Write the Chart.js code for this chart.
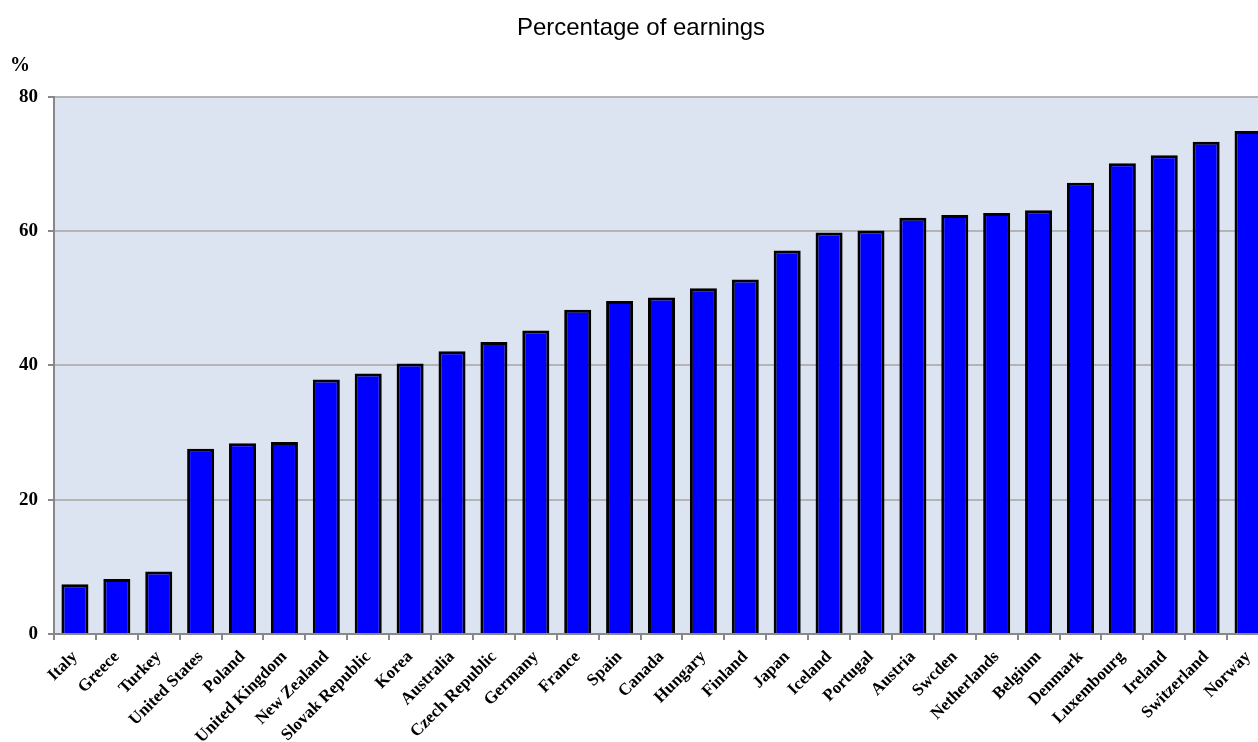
<!DOCTYPE html>
<html>
<head>
<meta charset="utf-8">
<script src="https://cdn.jsdelivr.net/npm/chart.js@4/dist/chart.umd.min.js"></script>
<style>
  html, body { margin: 0; padding: 0; background: #ffffff; overflow: hidden; }
  #wrap { width: 1293px; height: 742px; }
</style>
</head>
<body>
<div id="wrap"><canvas id="earningsChart" width="1293" height="742"></canvas></div>
<script>
// Pays, triés par valeur croissante
const countries = [
  "Italy", "Greece", "Turkey", "United States", "Poland", "United Kingdom",
  "New Zealand", "Slovak Republic", "Korea", "Australia", "Czech Republic",
  "Germany", "France", "Spain", "Canada", "Hungary", "Finland", "Japan",
  "Iceland", "Portugal", "Austria", "Swcden", "Netherlands", "Belgium",
  "Denmark", "Luxembourg", "Ireland", "Switzerland", "Norway"
];

// Pourcentage des gains
const earningsPct = [
  7.4, 8.2, 9.3, 27.6, 28.4, 28.6,
  37.9, 38.8, 40.3, 42.1, 43.5,
  45.2, 48.3, 49.6, 50.1, 51.5, 52.8, 57.1,
  59.8, 60.1, 62.0, 62.4, 62.7, 63.1,
  67.2, 70.1, 71.3, 73.3, 74.9
];

// Graduations de l'axe vertical
const yTicks = [0, 20, 40, 60, 80];

const serifFamily = "'Liberation Serif', 'Times New Roman', serif";

// Fond bleu clair de la zone de tracé + libellé "%"
const plotBackground = {
  id: "plotBackground",
  beforeDraw(chart) {
    const { ctx, chartArea } = chart;
    ctx.save();
    ctx.fillStyle = "#dbe4f0";
    ctx.fillRect(chartArea.left, chartArea.top, chartArea.right - chartArea.left, chartArea.bottom - chartArea.top);
    ctx.restore();
  },
  afterDraw(chart) {
    const { ctx } = chart;
    ctx.save();
    ctx.font = "bold 20px " + serifFamily;
    ctx.fillStyle = "#000000";
    ctx.textAlign = "center";
    ctx.textBaseline = "middle";
    ctx.fillText("%", 20, 66);
    ctx.restore();
  }
};

const ctx = document.getElementById("earningsChart").getContext("2d");

const config = {
  type: "bar",
  data: {
    labels: countries,
    datasets: [{
      label: "Percentage of earnings",
      data: earningsPct,
      backgroundColor: "#0000ff",
      borderColor: "#000000",
      borderWidth: 3,
      borderSkipped: "start",
      barPercentage: 0.645,
      categoryPercentage: 1.0
    }]
  },
  options: {
    responsive: false,
    animation: false,
    layout: { padding: { left: 13, right: 24, top: 0, bottom: 0 } },
    plugins: {
      legend: { display: false },
      tooltip: { enabled: false },
      title: {
        display: true,
        text: "Percentage of earnings",
        color: "#000000",
        font: { family: "'Liberation Sans', Arial, sans-serif", size: 24, weight: "normal" },
        padding: { top: 14, bottom: 54 }
      }
    },
    scales: {
      x: {
        grid: {
          offset: true,
          drawOnChartArea: false,
          color: "#888888",
          lineWidth: 2,
          tickLength: 6
        },
        border: { color: "#888888", width: 2 },
        ticks: {
          color: "#000000",
          font: { family: serifFamily, size: 17, weight: "bold" },
          minRotation: 45,
          maxRotation: 45,
          autoSkip: false,
          padding: 7
        },
        afterFit(scale) { scale.height = 108; }
      },
      y: {
        min: 0,
        max: 80,
        afterBuildTicks(scale) { scale.ticks = yTicks.map(v => ({ value: v })); },
        grid: {
          color: "#b4b4b4",
          lineWidth: 2,
          tickColor: "#888888",
          tickLength: 6
        },
        border: { color: "#888888", width: 2 },
        ticks: {
          color: "#000000",
          font: { family: serifFamily, size: 19, weight: "bold" },
          padding: 10
        },
        afterFit(scale) { scale.width = 41; }
      }
    }
  },
  plugins: [plotBackground]
};

const earningsChart = new Chart(ctx, config);
</script>
</body>
</html>
